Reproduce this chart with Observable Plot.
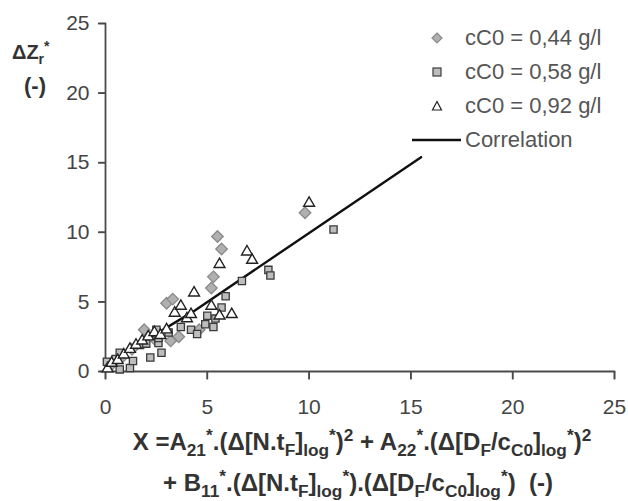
<!DOCTYPE html>
<html>
<head>
<meta charset="utf-8">
<script src="https://cdn.jsdelivr.net/npm/d3@7"></script>
<script src="https://cdn.jsdelivr.net/npm/@observablehq/plot@0.6"></script>
<style>
  html, body { margin: 0; padding: 0; background: #fff; }
  #wrap { position: relative; width: 628px; height: 501px; font-family: "Liberation Sans", Arial, sans-serif; }
  .ylab { position: absolute; font-weight: bold; font-size: 20px; color: #333; }
  .xlab { position: absolute; width: 628px; text-align: center; font-weight: bold; font-size: 24px; color: #333; white-space: nowrap; }
  .xlab sub, .xlab sup { font-size: 0.72em; }
  .ylab sub, .ylab sup { font-size: 0.7em; }
  .leg { position: absolute; left: 405px; top: 21px; font-size: 22px; color: #555; }
  .leg .row { position: relative; height: 34px; line-height: 34px; }
  .leg .row svg { position: absolute; left: 0; top: 0; }
  .leg span { position: absolute; left: 60px; white-space: nowrap; }
</style>
</head>
<body>
<div id="wrap"></div>
<script>
// ---- data ----
const xTicks = [0, 5, 10, 15, 20, 25];
const yTicks = [0, 5, 10, 15, 20, 25];

const seriesNames = ["cC0 = 0,44 g/l", "cC0 = 0,58 g/l", "cC0 = 0,92 g/l"];

const s044X = [0.3, 0.8, 1.3, 1.9, 2.5, 3.0, 3.3, 3.2, 3.6, 4.6, 5.2, 5.3, 5.5, 5.7, 9.8];
const s044Y = [0.5, 1.0, 1.6, 3.0, 2.2, 4.9, 5.2, 2.2, 2.5, 3.0, 6.0, 6.8, 9.7, 8.8, 11.4];

const s058X = [0.07, 0.5, 0.7, 1.2, 0.7, 1.35, 1.7, 2.0, 2.2, 2.5, 2.6, 2.6, 2.75, 3.1, 3.7, 4.2, 4.5, 4.9, 5.0, 5.3, 5.4, 5.7, 5.9, 6.7, 8.0, 8.1, 11.2];
const s058Y = [0.7, 0.9, 0.15, 0.25, 1.35, 0.75, 1.9, 2.0, 1.0, 3.0, 2.05, 2.4, 1.35, 2.8, 3.2, 3.0, 2.7, 3.4, 4.0, 3.2, 3.8, 4.6, 5.4, 6.5, 7.3, 6.9, 10.2];

const s092X = [0.1, 0.3, 0.6, 0.9, 1.2, 1.5, 1.8, 2.1, 2.4, 2.7, 3.0, 3.4, 3.7, 4.0, 4.2, 4.35, 5.2, 5.6, 6.2, 5.6, 6.95, 7.2, 10.0];
const s092Y = [0.2, 0.6, 0.8, 1.2, 1.6, 1.9, 2.2, 2.5, 2.8, 2.6, 3.0, 4.2, 4.7, 3.8, 4.1, 5.65, 4.7, 4.0, 4.1, 7.7, 8.6, 8.0, 12.1];

const corrX = [0, 4.3, 15.5];
const corrY = [0.5, 4.3, 15.4];

// ---- build tables ----
const pts = (xs, ys, s) => xs.map((x, i) => ({x, y: ys[i], s}));
const d044 = pts(s044X, s044Y, seriesNames[0]);
const d058 = pts(s058X, s058Y, seriesNames[1]);
const d092 = pts(s092X, s092Y, seriesNames[2]);
const corr = corrX.map((x, i) => ({x, y: corrY[i]}));

const axisColor = "#4a4a4a";

// tick glyphs drawn as paths
const tickLeft = {draw(ctx) { ctx.moveTo(0, 0); ctx.lineTo(-7, 0); }};
const tickDown = {draw(ctx) { ctx.moveTo(0, 0); ctx.lineTo(0, 8); }};

const chart = Plot.plot({
  width: 628,
  height: 425,
  marginLeft: 105,
  marginRight: 14,
  marginTop: 23,
  marginBottom: 54,
  x: {domain: [0, 25]},
  y: {domain: [0, 25]},
  style: {fontFamily: "'Liberation Sans', Arial, sans-serif", fontSize: "21px", color: "#444", background: "white"},
  marks: [
    Plot.axisX({ticks: xTicks, tickSize: 8, tickPadding: 20, stroke: axisColor, strokeWidth: 1.6, fill: "#444", fontSize: 21, label: null, tickFormat: d3.format("d")}),
    Plot.axisY({ticks: yTicks, tickSize: 7, tickPadding: 9, stroke: axisColor, strokeWidth: 1.6, fill: "#444", fontSize: 21, label: null, tickFormat: d3.format("d")}),
    // axis lines as paths
    Plot.line(xTicks, {x: d => d, y: () => 0, stroke: axisColor, strokeWidth: 1.8}),
    Plot.line(yTicks, {x: () => 0, y: d => d, stroke: axisColor, strokeWidth: 1.8}),
    // tick marks as path glyphs
    Plot.dot(xTicks, {x: d => d, y: () => 0, symbol: tickDown, fill: "none", stroke: axisColor, strokeWidth: 1.6}),
    Plot.dot(yTicks, {x: () => 0, y: d => d, symbol: tickLeft, fill: "none", stroke: axisColor, strokeWidth: 1.6}),
    Plot.line(corr, {x: "x", y: "y", stroke: "#111", strokeWidth: 2.4}),
    Plot.dot(d044, {x: "x", y: "y", symbol: "diamond2", r: 5.2, fill: "#b0b0b0", stroke: "#8a8a8a", strokeWidth: 1.3}),
    Plot.dot(d058, {x: "x", y: "y", symbol: "square2", r: 4.6, fill: "#bdbdbd", stroke: "#3a3a3a", strokeWidth: 1.3}),
    Plot.dot(d092, {x: "x", y: "y", symbol: "triangle2", r: 5.2, fill: "white", stroke: "#222", strokeWidth: 1.4})
  ]
});

const wrap = document.getElementById("wrap");
wrap.appendChild(chart);

// y label
const yl1 = document.createElement("div");
yl1.className = "ylab";
yl1.style.left = "12px"; yl1.style.top = "38px";
yl1.innerHTML = "&Delta;Z<sub>r</sub><sup>*</sup>";
wrap.appendChild(yl1);
const yl2 = document.createElement("div");
yl2.className = "ylab";
yl2.style.left = "24px"; yl2.style.top = "73px";
yl2.style.fontSize = "22px";
yl2.textContent = "(-)";
wrap.appendChild(yl2);

// x label
const xl1 = document.createElement("div");
xl1.className = "xlab";
xl1.style.top = "425px"; xl1.style.left = "48px";
xl1.innerHTML = "X =A<sub>21</sub><sup>*</sup>.(&Delta;[N.t<sub>F</sub>]<sub>log</sub><sup>*</sup>)<sup>2</sup> + A<sub>22</sub><sup>*</sup>.(&Delta;[D<sub>F</sub>/c<sub>C0</sub>]<sub>log</sub><sup>*</sup>)<sup>2</sup>";
wrap.appendChild(xl1);
const xl2 = document.createElement("div");
xl2.className = "xlab";
xl2.style.top = "466px"; xl2.style.left = "44px";
xl2.innerHTML = "+ B<sub>11</sub><sup>*</sup>.(&Delta;[N.t<sub>F</sub>]<sub>log</sub><sup>*</sup>).(&Delta;[D<sub>F</sub>/c<sub>C0</sub>]<sub>log</sub><sup>*</sup>)&nbsp; (-)";
wrap.appendChild(xl2);

// legend
const leg = document.createElement("div");
leg.className = "leg";
const icons = [
  '<svg width="60" height="34"><path d="M32,12 L37,17 L32,22 L27,17 Z" fill="#b0b0b0" stroke="#8a8a8a" stroke-width="1.2"/></svg>',
  '<svg width="60" height="34"><rect x="28" y="13" width="8" height="8" fill="#bdbdbd" stroke="#3a3a3a" stroke-width="1.2"/></svg>',
  '<svg width="60" height="34"><path d="M32,12.5 L36.5,21 L27.5,21 Z" fill="white" stroke="#222" stroke-width="1.2"/></svg>',
  '<svg width="60" height="34"><line x1="7" y1="17" x2="56" y2="17" stroke="#111" stroke-width="2.4"/></svg>'
];
const labels = [...seriesNames, "Correlation"];
labels.forEach((t, i) => {
  const r = document.createElement("div");
  r.className = "row";
  r.innerHTML = icons[i] + '<span>' + t + '</span>';
  leg.appendChild(r);
});
wrap.appendChild(leg);
</script>
</body>
</html>
